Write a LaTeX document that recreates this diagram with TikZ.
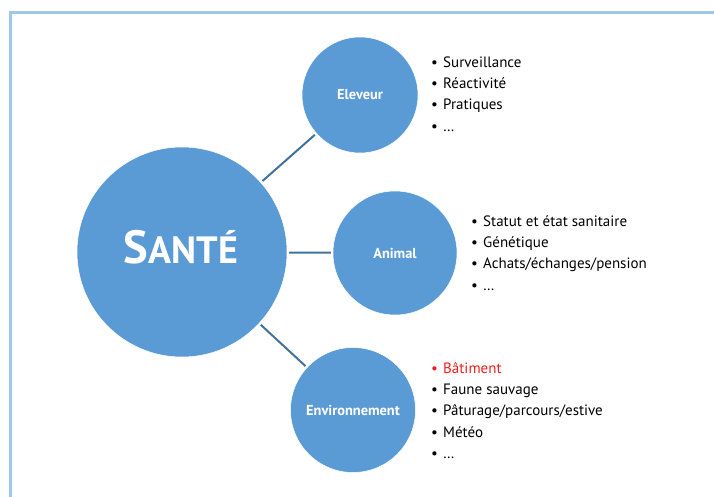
\documentclass[tikz,border=0pt]{standalone}
\usepackage{fontspec}
\setmainfont{PT Sans}
\definecolor{discblue}{RGB}{91,155,213}
\definecolor{linkblue}{RGB}{65,113,156}
\definecolor{frameblue}{RGB}{155,200,235}
\definecolor{itemred}{RGB}{240,30,30}
\newcommand{\bul}{\makebox[12pt][l]{\textbullet}}
\begin{document}
\begin{tikzpicture}[x=1pt,y=-1pt,
  disc/.style={circle, fill=discblue, draw=white, line width=0.5pt, inner sep=0pt, text=white, font=\bfseries\fontsize{14.4}{16}\selectfont},
  link/.style={draw=linkblue, line width=2pt, shorten <=2pt, shorten >=2pt},
  item/.style={anchor=base west, inner sep=0pt, font=\fontsize{15}{17}\selectfont}]
\useasboundingbox (0,0) rectangle (714,497);
\draw[frameblue, line width=3pt] (10,497) -- (10,13) -- (714,13);
\node[disc, minimum size=210pt] (sante) at (182,252){};
\node[text=white, font=\bfseries, anchor=base, inner sep=0pt] (santetxt) at (181,263){\fontsize{46.5}{46}\selectfont S\fontsize{38}{38}\selectfont ANTÉ};
\node[disc, minimum size=116pt] (eleveur) at (360,95){Eleveur};
\node[disc, minimum size=124pt] (animal) at (395,253){Animal};
\node[disc, minimum size=125pt] (env) at (353,410){Environnement};
\draw[link](sante) -- (eleveur);
\draw[link](sante) -- (animal);
\draw[link](sante) -- (env);
\node[item] (elv1) at (431,68){\bul Surveillance};
\node[item] (elv2) at (431,89){\bul Réactivité};
\node[item] (elv3) at (431,110){\bul Pratiques};
\node[item] (elv4) at (431,132){\bul …};
\node[item] (ani1) at (471,226){\bul Statut et état sanitaire};
\node[item] (ani2) at (471,247){\bul Génétique};
\node[item] (ani3) at (471,268){\bul Achats/échanges/pension};
\node[item] (ani4) at (471,290){\bul …};
\node[item, text=itemred] (env1) at (431,373){\bul Bâtiment};
\node[item] (env2) at (431,394){\bul Faune sauvage};
\node[item] (env3) at (431,415){\bul Pâturage/parcours/estive};
\node[item] (env4) at (431,437){\bul Météo};
\node[item] (env5) at (431,458){\bul …};
\end{tikzpicture}
\end{document}
